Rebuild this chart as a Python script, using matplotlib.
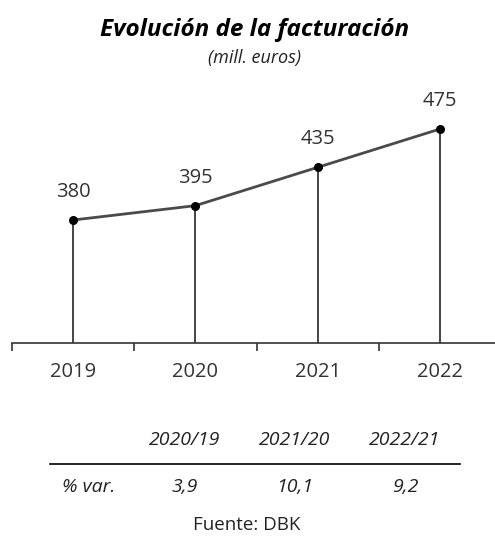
import matplotlib.pyplot as plt

plt.rcParams['font.family'] = ['Open Sans', 'DejaVu Sans']

years = ['2019', '2020', '2021', '2022']
facturacion = [380, 395, 435, 475]
periodos = ['2020/19', '2021/20', '2022/21']
variacion = ['3,9', '10,1', '9,2']

fig = plt.figure(figsize=(4.95, 5.4), dpi=100)
W, H = 495, 540

# axes: baseline at y=343 px, first tick at x=12 px, 122.3 px per category
ax = fig.add_axes([12 / W, (H - 343) / H, 489 / W, 243 / H])
x = list(range(len(years)))
ax.set_xlim(-0.5, 3.5)
ax.set_ylim(251.6, 505.3)

ax.vlines(x, 251.6, facturacion, color='#444444', lw=1.4, zorder=1)
ax.plot(x, facturacion, color='#4a4a4a', lw=2, zorder=2)
ax.scatter(x, facturacion, s=30, color='black', zorder=3)
for xi, v in zip(x, facturacion):
    ax.annotate(str(v), (xi, v), xytext=(0, 13), textcoords='offset points',
                ha='center', va='bottom', fontsize=14.5, color='#333333')

for s in ['top', 'right', 'left']:
    ax.spines[s].set_visible(False)
ax.spines['bottom'].set_color('#333333')
ax.spines['bottom'].set_linewidth(1.2)
ax.set_yticks([])
ax.set_xticks([-0.5, 0.5, 1.5, 2.5])
ax.set_xticklabels([])
ax.tick_params(axis='x', length=6, width=1.2, color='#333333')
ax.set_xticks(x, minor=True)
ax.set_xticklabels(years, minor=True)
ax.tick_params(axis='x', which='minor', length=0, pad=14, labelsize=14.5,
               labelcolor='#333333')

fig.text(255 / W, 1 - 30 / H, 'Evolución de la facturación', ha='center',
         va='center', fontsize=17.5, fontweight='bold', style='italic')
fig.text(255 / W, 1 - 58 / H, '(mill. euros)', ha='center', va='center',
         fontsize=13, style='italic', color='#222222')

# tabla de variaciones
cols = [185, 295, 405]
for cx, p, v in zip(cols, periodos, variacion):
    fig.text(cx / W, 1 - 440 / H, p, ha='center', va='center', fontsize=14,
             style='italic', color='#222222')
    fig.text(cx / W, 1 - 487 / H, v, ha='center', va='center', fontsize=14,
             style='italic', color='#222222')
fig.text(62 / W, 1 - 487 / H, '% var.', ha='left', va='center', fontsize=14,
         style='italic', color='#222222')
fig.add_artist(plt.Line2D([50 / W, 460 / W], [1 - 464 / H, 1 - 464 / H],
                          color='black', lw=1.2))
fig.text(247 / W, 1 - 525 / H, 'Fuente: DBK', ha='center', va='center',
         fontsize=13.5, color='#222222')

fig.savefig('out.png', dpi=100)
